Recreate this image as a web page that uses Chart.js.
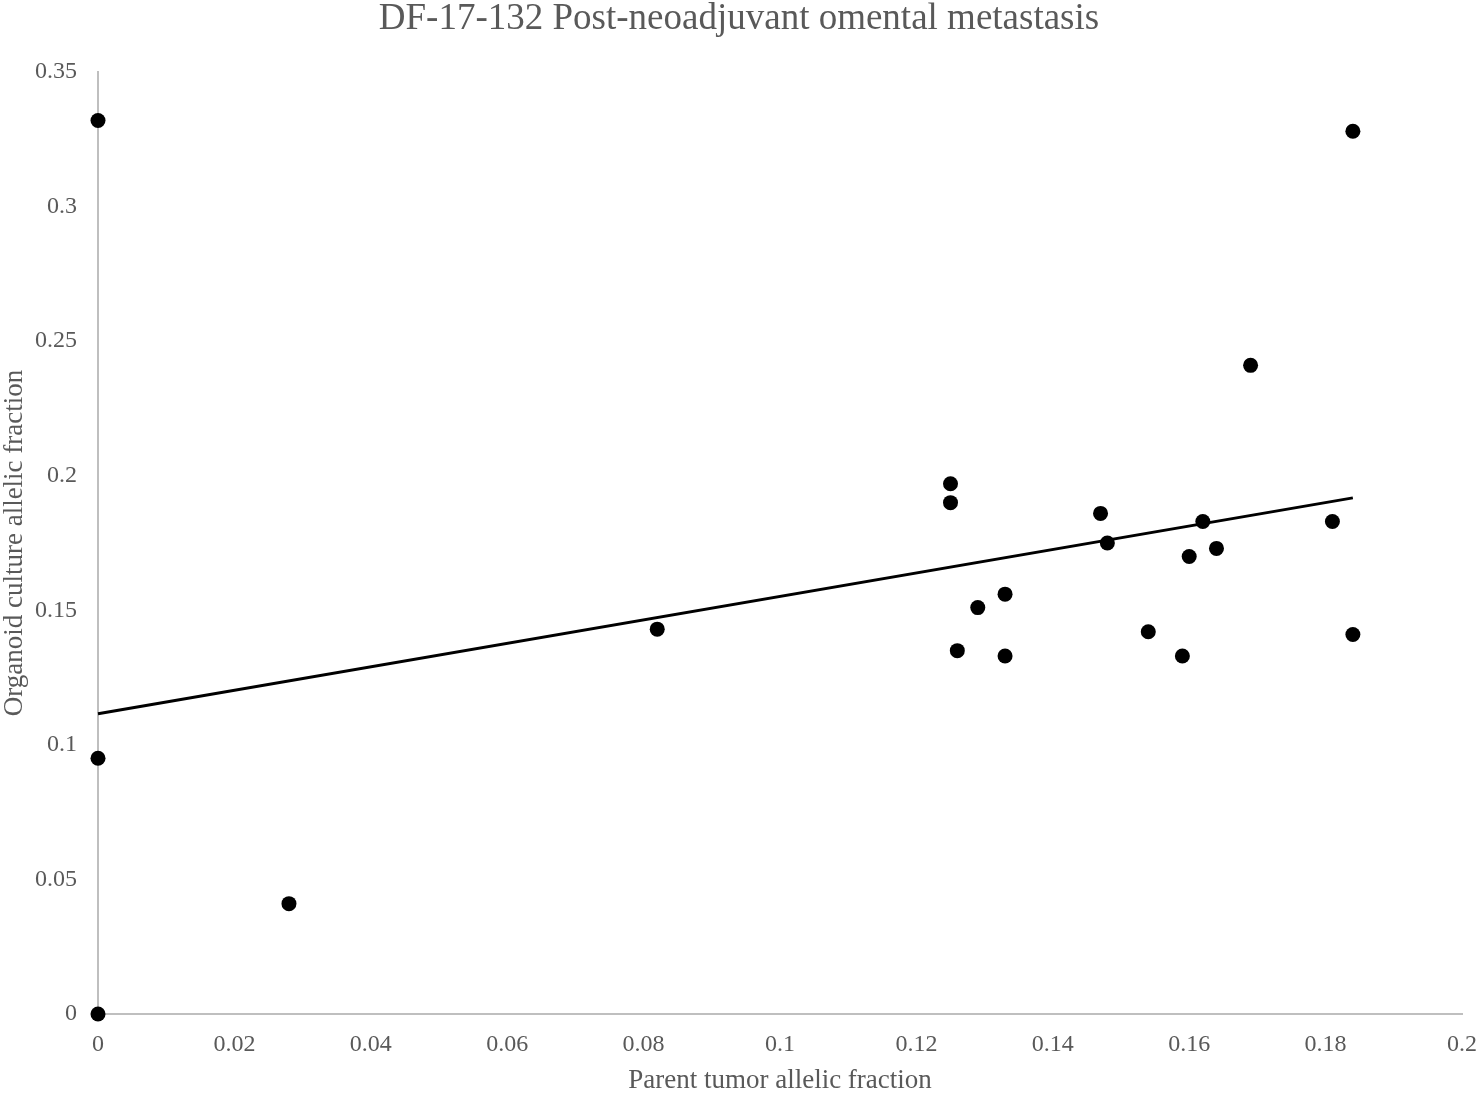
<!DOCTYPE html>
<html lang="en">
<head>
  <meta charset="UTF-8">
  <title>DF-17-132 Post-neoadjuvant omental metastasis</title>
  <script src="https://cdn.jsdelivr.net/npm/chart.js"></script>
  <style>
    body, html {
      margin: 0;
      padding: 0;
      background: #fff;
    }
    #chart {
      display: block;
    }
  </style>
</head>
<body>
  <canvas id="chart" width="1478" height="1094"></canvas>
  <script>
    // allelic fractions per variant
    const parentAF = [0, 0, 0, 0.028, 0.082, 0.125, 0.125, 0.126, 0.129, 0.133, 0.133,
      0.147, 0.148, 0.154, 0.159, 0.16, 0.162, 0.164, 0.169, 0.181, 0.184, 0.184];
    const organoidAF = [0.332, 0.095, 0, 0.041, 0.143, 0.197, 0.19, 0.135, 0.151, 0.156, 0.133,
      0.186, 0.175, 0.142, 0.133, 0.17, 0.183, 0.173, 0.241, 0.183, 0.328, 0.141];

    const xTicks = [0, 0.02, 0.04, 0.06, 0.08, 0.1, 0.12, 0.14, 0.16, 0.18, 0.2];
    const yTicks = [0, 0.05, 0.1, 0.15, 0.2, 0.25, 0.3, 0.35];

    const textColor = '#595959';
    const axisColor = '#bfbfbf';
    const serif = "'Liberation Serif', 'Times New Roman', serif";

    // least squares trendline over the data range
    function linearFit(xs, ys) {
      const n = xs.length;
      const mx = xs.reduce((a, b) => a + b, 0) / n;
      const my = ys.reduce((a, b) => a + b, 0) / n;
      let sxy = 0, sxx = 0;
      for (let i = 0; i < n; i++) {
        sxy += (xs[i] - mx) * (ys[i] - my);
        sxx += (xs[i] - mx) * (xs[i] - mx);
      }
      const slope = sxy / sxx;
      return { slope, intercept: my - slope * mx };
    }

    const fit = linearFit(parentAF, organoidAF);
    const xMin = Math.min(...parentAF);
    const xMax = Math.max(...parentAF);
    const trend = [xMin, xMax].map(x => ({ x, y: fit.intercept + fit.slope * x }));

    const points = parentAF.map((x, i) => ({ x, y: organoidAF[i] }));

    const fixTicks = values => scale => {
      scale.ticks = values.map(v => ({ value: v }));
    };

    new Chart(document.getElementById('chart'), {
      type: 'scatter',
      data: {
        datasets: [{
          label: 'Variants',
          data: points,
          backgroundColor: '#000',
          borderColor: '#000',
          borderWidth: 0,
          pointRadius: 7.5,
          pointHoverRadius: 7.5,
          clip: false,
          order: 2
        }, {
          type: 'line',
          label: 'Linear trend',
          data: trend,
          borderColor: '#000',
          borderWidth: 3,
          pointRadius: 0,
          fill: false,
          clip: false,
          order: 1
        }]
      },
      options: {
        responsive: false,
        animation: false,
        layout: {
          padding: { left: 0, right: 0, top: 0, bottom: 0 }
        },
        plugins: {
          legend: { display: false },
          tooltip: { enabled: false },
          title: {
            display: true,
            text: 'DF-17-132 Post-neoadjuvant omental metastasis',
            color: textColor,
            font: { family: serif, size: 37, weight: 'normal', lineHeight: 1 },
            padding: { top: 1, bottom: 34 }
          }
        },
        scales: {
          x: {
            type: 'linear',
            min: 0,
            max: 0.2,
            afterBuildTicks: fixTicks(xTicks),
            afterFit: scale => {
              scale.height = 80;
              scale.paddingLeft = 0;
              scale.paddingRight = 16;
            },
            grid: { display: false, drawTicks: false },
            border: { display: true, color: axisColor, width: 2 },
            ticks: {
              color: textColor,
              font: { family: serif, size: 24 },
              padding: 16,
              maxRotation: 0,
              autoSkip: false,
              callback: v => String(v)
            },
            title: {
              display: true,
              text: 'Parent tumor allelic fraction',
              color: textColor,
              font: { family: serif, size: 27, lineHeight: 1 },
              padding: 0
            }
          },
          y: {
            type: 'linear',
            min: 0,
            max: 0.35,
            afterBuildTicks: fixTicks(yTicks),
            afterFit: scale => { scale.width = 98; },
            grid: { display: false, drawTicks: false },
            border: { display: true, color: axisColor, width: 2 },
            ticks: {
              color: textColor,
              font: { family: serif, size: 24 },
              padding: 21,
              autoSkip: false,
              callback: v => String(v)
            },
            title: {
              display: true,
              text: 'Organoid culture allelic fraction',
              color: textColor,
              font: { family: serif, size: 27, lineHeight: 1.1 },
              padding: 0
            }
          }
        }
      }
    });
  </script>
</body>
</html>
